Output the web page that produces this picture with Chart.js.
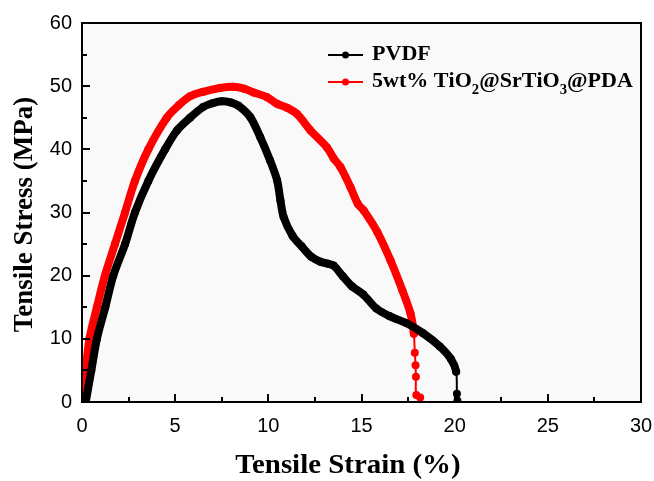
<!DOCTYPE html>
<html>
<head>
<meta charset="utf-8">
<title>Tensile stress-strain curves</title>
<script src="https://cdn.jsdelivr.net/npm/chart.js@4.4.1/dist/chart.umd.min.js"></script>
<style>
  html, body { margin: 0; padding: 0; background: #ffffff; }
  #wrap { width: 654px; height: 481px; }
</style>
</head>
<body>
<div id="wrap"><canvas id="chart" width="654" height="481"></canvas></div>
<script>
// Stress-strain data, strain in %, stress in MPa
const strainPVDF = [0.2, 0.5, 0.8, 1.25, 1.68, 2.31, 2.84, 3.56, 4.46, 5.1, 5.8, 6.5, 7.0, 7.5, 8.0, 8.4, 9.03, 9.57, 10.1, 10.47, 10.65, 10.82, 11.3, 11.8, 12.3, 12.8, 13.2, 13.5, 14.0, 14.5, 15.1, 15.8, 16.5, 17.4, 18.3, 19.2, 19.8, 20.08, 20.12, 20.15];
const stressPVDF = [0, 5, 10, 15, 20, 25, 30, 35, 40, 43, 45, 46.7, 47.3, 47.6, 47.4, 46.9, 45.1, 41.9, 38.2, 35.1, 31.9, 29.3, 26.3, 24.6, 23.0, 22.2, 21.9, 21.6, 19.9, 18.3, 17.0, 14.8, 13.6, 12.5, 10.9, 8.8, 6.8, 4.8, 1.3, 0.2];

const strainComposite = [0.05, 0.2, 0.4, 0.8, 1.23, 1.77, 2.31, 2.84, 3.56, 4.55, 5.2, 5.8, 6.5, 7.4, 8.1, 8.7, 9.21, 9.9, 10.47, 11.0, 11.54, 12.26, 13.15, 13.5, 13.87, 14.41, 14.8, 15.12, 15.85, 16.56, 17.19, 17.63, 17.81, 17.86, 17.9, 17.92, 17.94, 18.15];
const stressComposite = [0, 5, 10, 15, 20, 25, 30, 35, 40, 45, 47, 48.4, 49.1, 49.7, 49.9, 49.6, 49.0, 48.3, 47.2, 46.6, 45.6, 43.0, 40.3, 38.6, 37.2, 34.0, 31.4, 30.3, 26.9, 22.4, 17.7, 14.0, 10.8, 7.8, 5.8, 4.0, 1.1, 0.7];

// Number of trailing points that belong to the fracture drop of each curve
const fracturePVDF = 2;
const fractureComposite = 5;

const seriesLabels = ['PVDF', '5wt% TiO₂@SrTiO₃@PDA'];
const seriesColors = ['#000000', '#ff0000'];

const xTicks = [0, 5, 10, 15, 20, 25, 30];
const yTicks = [0, 10, 20, 30, 40, 50, 60];

const xTitle = 'Tensile Strain (%)';
const yTitle = 'Tensile Stress (MPa)';

function toPoints(xs, ys) {
  return xs.map((x, i) => ({ x: x, y: ys[i] }));
}

function makeDataset(label, color, xs, ys, fractureCount) {
  const breakIndex = xs.length - 1 - fractureCount;
  return {
    label: label,
    data: toPoints(xs, ys),
    showLine: true,
    borderColor: color,
    backgroundColor: color,
    pointBackgroundColor: color,
    pointBorderWidth: 0,
    pointRadius: 4,
    pointHoverRadius: 4,
    tension: 0.3,
    borderCapStyle: 'round',
    borderJoinStyle: 'round',
    borderWidth: 8,
    segment: {
      borderWidth: ctx => (ctx.p0DataIndex >= breakIndex ? 2 : 8)
    }
  };
}

const serif = '"Liberation Serif", "Times New Roman", serif';

// Draws a label, rendering subscript digits smaller and lowered
function drawRichLabel(ctx, text, x, y) {
  const subs = { '₀': '0', '₁': '1', '₂': '2', '₃': '3', '₄': '4' };
  ctx.fillStyle = '#000';
  ctx.textBaseline = 'middle';
  ctx.textAlign = 'left';
  let cx = x;
  for (const ch of text) {
    if (subs[ch]) {
      ctx.font = 'bold 14px ' + serif;
      ctx.fillText(subs[ch], cx, y + 8);
      cx += ctx.measureText(subs[ch]).width;
    } else {
      ctx.font = 'bold 21px ' + serif;
      ctx.fillText(ch, cx, y);
      cx += ctx.measureText(ch).width;
    }
  }
}

// Plot background, frame, inward major/minor ticks, axis titles and the legend
const framePlugin = {
  id: 'frame',
  beforeDatasetsDraw(chart) {
    const { ctx, chartArea: a } = chart;
    ctx.save();
    ctx.fillStyle = '#f9f9f9';
    ctx.fillRect(a.left, a.top, a.right - a.left, a.bottom - a.top);
    ctx.restore();
  },
  afterDatasetsDraw(chart) {
    const { ctx, chartArea: a, scales } = chart;
    const xs = scales.x, ys = scales.y;
    ctx.save();
    ctx.strokeStyle = '#000';
    ctx.lineWidth = 2;
    ctx.beginPath();
    // bottom x ticks (major every 5, minor every 2.5)
    for (let v = 0; v <= 30 + 1e-9; v += 2.5) {
      const px = Math.round(xs.getPixelForValue(v));
      const len = (Math.abs(v % 5) < 1e-9) ? 8 : 5;
      ctx.moveTo(px, a.bottom);
      ctx.lineTo(px, a.bottom - len);
    }
    // left y ticks (major every 10, minor every 5)
    for (let v = 0; v <= 60 + 1e-9; v += 5) {
      const py = Math.round(ys.getPixelForValue(v));
      const len = (Math.abs(v % 10) < 1e-9) ? 8 : 5;
      ctx.moveTo(a.left, py);
      ctx.lineTo(a.left + len, py);
    }
    ctx.stroke();
    ctx.strokeRect(a.left, a.top, a.right - a.left, a.bottom - a.top);

    // axis titles
    ctx.fillStyle = '#000';
    ctx.font = 'bold 27px ' + serif;
    ctx.textAlign = 'center';
    ctx.textBaseline = 'middle';
    ctx.save();
    ctx.translate(348, 466);
    ctx.scale(1.07, 1);
    ctx.fillText(xTitle, 0, 0);
    ctx.restore();
    ctx.save();
    ctx.translate(25, (a.top + a.bottom) / 2 + 2);
    ctx.rotate(-Math.PI / 2);
    ctx.fillText(yTitle, 0, 0);
    ctx.restore();

    // legend
    const lx0 = a.left + 246, lx1 = a.left + 281, tx = a.left + 290;
    chart.data.datasets.forEach((ds, i) => {
      const y = a.top + 32 + i * 27;
      ctx.strokeStyle = ds.borderColor;
      ctx.fillStyle = ds.borderColor;
      ctx.lineWidth = 2;
      ctx.beginPath();
      ctx.moveTo(lx0, y);
      ctx.lineTo(lx1, y);
      ctx.stroke();
      ctx.beginPath();
      ctx.arc((lx0 + lx1) / 2, y, 3.5, 0, Math.PI * 2);
      ctx.fill();
      ctx.save();
      ctx.translate(tx, y);
      ctx.scale(1.05, 1);
      drawRichLabel(ctx, ds.label, 0, 0);
      ctx.restore();
    });
    ctx.restore();
  }
};

const tickFont = { family: '"Liberation Sans", Arial, sans-serif', size: 20 };

new Chart(document.getElementById('chart'), {
  type: 'scatter',
  data: {
    datasets: [
      makeDataset(seriesLabels[0], seriesColors[0], strainPVDF, stressPVDF, fracturePVDF),
      makeDataset(seriesLabels[1], seriesColors[1], strainComposite, stressComposite, fractureComposite)
    ]
  },
  options: {
    responsive: false,
    animation: false,
    layout: { padding: { left: 0, top: 23, right: 13, bottom: 0 } },
    plugins: {
      legend: { display: false },
      tooltip: { enabled: false }
    },
    scales: {
      x: {
        type: 'linear',
        min: 0, max: 30,
        afterBuildTicks: s => { s.ticks = xTicks.map(v => ({ value: v })); },
        afterFit: s => { s.height = 79; s.paddingLeft = 0; s.paddingRight = 0; },
        grid: { display: false, drawTicks: false },
        border: { display: false },
        ticks: { font: tickFont, color: '#000', padding: 12, maxRotation: 0 },
        title: { display: false }
      },
      y: {
        type: 'linear',
        min: 0, max: 60,
        afterBuildTicks: s => { s.ticks = yTicks.map(v => ({ value: v })); },
        afterFit: s => { s.width = 82; s.paddingTop = 0; s.paddingBottom = 0; },
        grid: { display: false, drawTicks: false },
        border: { display: false },
        ticks: { font: tickFont, color: '#000', padding: 10 },
        title: { display: false }
      }
    }
  },
  plugins: [framePlugin]
});
</script>
</body>
</html>
